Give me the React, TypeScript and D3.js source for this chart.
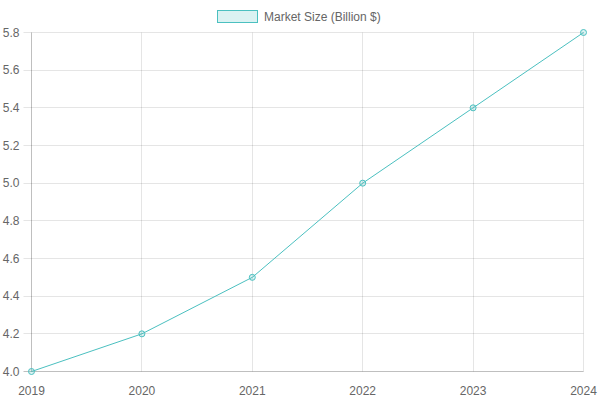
import { useEffect, useRef } from 'react';
import * as d3 from 'd3';

const years = ['2019', '2020', '2021', '2022', '2023', '2024'];
const marketSize = [4.0, 4.2, 4.5, 5.0, 5.4, 5.8];
const yTicks = [4.0, 4.2, 4.4, 4.6, 4.8, 5.0, 5.2, 5.4, 5.6, 5.8];
const seriesLabel = 'Market Size (Billion $)';

const App = () => {
  const svgRef = useRef<SVGSVGElement>(null);

  useEffect(() => {
    const width = 600;
    const height = 400;
    const left = 31.5;
    const right = 583.5;
    const top = 32.5;
    const bottom = 371.5;
    const color = 'rgb(75, 192, 192)';
    const font = 'Liberation Sans, Arial, Helvetica, sans-serif';

    const svg = d3.select(svgRef.current)
      .attr('width', width)
      .attr('height', height);
    svg.selectAll('*').remove();

    const x = d3.scalePoint().domain(years).range([left, right]);
    const y = d3.scaleLinear().domain([4.0, 5.8]).range([bottom, top]);

    // grid
    svg.append('g')
      .selectAll('line')
      .data(yTicks)
      .join('line')
      .attr('x1', left - 8)
      .attr('x2', right)
      .attr('y1', d => Math.round(y(d) - 0.5) + 0.5)
      .attr('y2', d => Math.round(y(d) - 0.5) + 0.5)
      .attr('stroke', d => d === 4.0 ? 'rgba(0,0,0,0.25)' : 'rgba(0,0,0,0.1)');

    svg.append('g')
      .selectAll('line')
      .data(years)
      .join('line')
      .attr('x1', d => Math.round(x(d)! - 0.5) + 0.5)
      .attr('x2', d => Math.round(x(d)! - 0.5) + 0.5)
      .attr('y1', top)
      .attr('y2', bottom)
      .attr('stroke', d => d === '2019' ? 'rgba(0,0,0,0.25)' : 'rgba(0,0,0,0.1)');

    // tick labels
    svg.append('g')
      .attr('font-family', font)
      .attr('font-size', 12)
      .attr('fill', '#666')
      .attr('text-anchor', 'end')
      .selectAll('text')
      .data(yTicks)
      .join('text')
      .attr('x', left - 12)
      .attr('y', d => y(d) + 4)
      .text(d => d.toFixed(1));

    svg.append('g')
      .attr('font-family', font)
      .attr('font-size', 12)
      .attr('fill', '#666')
      .attr('text-anchor', 'middle')
      .selectAll('text')
      .data(years)
      .join('text')
      .attr('x', d => x(d)!)
      .attr('y', bottom + 23)
      .text(d => d);

    // line
    const line = d3.line<number>()
      .x((_, i) => x(years[i])!)
      .y(d => y(d));

    svg.append('path')
      .datum(marketSize)
      .attr('d', line)
      .attr('fill', 'none')
      .attr('stroke', color)
      .attr('stroke-width', 1);

    svg.append('g')
      .selectAll('circle')
      .data(marketSize)
      .join('circle')
      .attr('cx', (_, i) => x(years[i])!)
      .attr('cy', d => y(d))
      .attr('r', 3)
      .attr('fill', 'rgba(75, 192, 192, 0.2)')
      .attr('stroke', color)
      .attr('stroke-width', 1);

    // legend
    const legend = svg.append('g');
    legend.append('rect')
      .attr('x', 217.5)
      .attr('y', 10.5)
      .attr('width', 40)
      .attr('height', 12)
      .attr('fill', 'rgba(75, 192, 192, 0.2)')
      .attr('stroke', color)
      .attr('stroke-width', 1);
    legend.append('text')
      .attr('x', 264)
      .attr('y', 20.5)
      .attr('font-family', font)
      .attr('font-size', 12)
      .attr('fill', '#666')
      .text(seriesLabel);
  }, []);

  return (
    <div style={{ position: 'absolute', left: 0, top: 0 }}>
      <svg ref={svgRef}></svg>
    </div>
  );
};

export default App;
